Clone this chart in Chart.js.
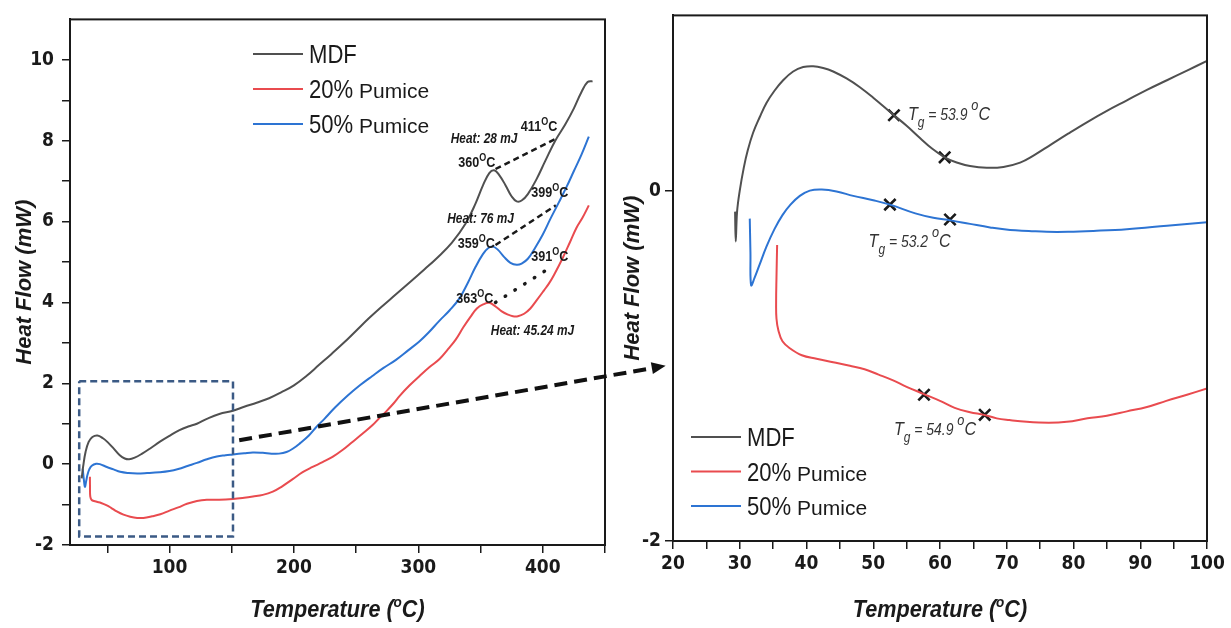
<!DOCTYPE html>
<html>
<head>
<meta charset="utf-8">
<title>DSC heat flow</title>
<script src="https://cdn.jsdelivr.net/npm/chart.js@4/dist/chart.umd.min.js"></script>
<style>
  body { margin: 0; background: #fff; }
  #wrap { position: relative; width: 1231px; height: 628px; }
  canvas { position: absolute; top: 0; }
  #full { left: 0; }
  #zoom { left: 620px; }
  #overlay { left: 0; pointer-events: none; }
</style>
</head>
<body>
<div id="wrap">
  <canvas id="full" width="620" height="628"></canvas>
  <canvas id="zoom" width="611" height="628"></canvas>
  <canvas id="overlay" width="1231" height="628"></canvas>
</div>
<script>
// Series
const SERIES = ['MDF', '20% Pumice', '50% Pumice'];
const COLORS = ['#505050', '#e94b4f', '#2d74d3'];

// Full scan, 20-450 °C  [temperature, heat flow]
const mdfFull = [[29.4,-0.35],[30.6,-0.05],[32.5,0.3],[35,0.55],[38,0.67],[42,0.71],[46.5,0.64],[51,0.52],[55,0.39],[60,0.22],[64,0.14],[67.5,0.12],[72,0.16],[78,0.26],[85,0.4],[92,0.55],[100,0.7],[108,0.84],[115,0.93],[122,1.0],[130,1.12],[140,1.24],[151,1.32],[160,1.42],[170,1.52],[180,1.63],[190,1.78],[200,1.95],[210,2.18],[220,2.45],[230,2.72],[240,3.0],[250,3.3],[260,3.6],[270,3.88],[282,4.2],[295,4.55],[305,4.82],[315,5.1],[327,5.48],[338,5.95],[346,6.45],[352,6.9],[357,7.2],[361,7.27],[365,7.15],[370,6.9],[375,6.62],[379,6.5],[383,6.52],[388,6.68],[395,7.05],[402,7.5],[410,8.0],[418,8.4],[425,8.8],[431,9.2],[436,9.45],[440,9.47]];
const p20Full = [[36,-0.31],[36.1,-0.6],[36.3,-0.8],[37.5,-0.89],[41.5,-0.93],[45,-0.96],[49.6,-1.02],[53,-1.08],[57.6,-1.17],[63,-1.25],[68.4,-1.3],[74,-1.33],[79,-1.33],[86,-1.29],[92.6,-1.24],[100,-1.15],[107,-1.07],[114,-0.98],[122,-0.91],[130,-0.88],[140,-0.88],[151,-0.86],[160,-0.83],[167,-0.8],[175,-0.76],[183,-0.68],[190,-0.56],[199,-0.37],[207,-0.2],[215,-0.07],[223,0.05],[231,0.18],[239,0.35],[247,0.55],[255,0.75],[263,0.96],[269,1.15],[274,1.3],[280,1.5],[285,1.69],[293,1.95],[301,2.18],[309,2.4],[317,2.6],[324,2.85],[330,3.08],[336,3.38],[342,3.65],[347,3.85],[352,3.95],[357,3.99],[362,3.9],[367,3.78],[372,3.7],[376,3.66],[380,3.66],[385,3.72],[390,3.85],[395,4.05],[401,4.3],[405,4.47],[409,4.68],[416,5.1],[422,5.5],[427,5.84],[432,6.1],[437,6.4]];
const p50Full = [[30.2,-0.11],[31.2,-0.4],[32,-0.56],[33,-0.42],[34,-0.27],[35.5,-0.13],[37.5,-0.04],[41,0.01],[44,0.0],[49.6,-0.07],[55,-0.13],[60.3,-0.19],[67,-0.22],[74,-0.23],[82,-0.22],[92,-0.2],[100,-0.17],[107,-0.12],[115,-0.04],[122,0.03],[130,0.12],[138,0.19],[145,0.22],[151,0.24],[160,0.27],[167,0.29],[175,0.28],[182,0.26],[188,0.26],[194,0.3],[199,0.38],[205,0.52],[212,0.71],[218,0.92],[224.5,1.12],[233,1.4],[243,1.69],[253,1.95],[263,2.18],[272,2.38],[282,2.58],[292,2.82],[301,3.04],[309,3.28],[317,3.55],[325,3.8],[333,4.1],[340,4.5],[346,4.88],[352,5.2],[356,5.34],[360,5.38],[364,5.3],[369,5.12],[374,4.98],[379,4.93],[383,4.96],[388,5.08],[394,5.36],[400,5.68],[406,6.06],[413,6.48],[419,6.85],[425,7.25],[431,7.65],[437,8.1]];

// Peak-to-peak guides on the full scan
const mdfLink = [[362,7.3],[410,8.04]];
const p50Link = [[362,5.42],[410.5,6.4]];
const p20Link = [[362,4.0],[407,4.88]];
// Region enlarged in the right panel
const zoomBox = [[27.4,2.05],[151,2.05],[151,-1.79],[27.4,-1.79],[27.4,2.05]];
const arrowFrom = [156, 0.59];   // full-scan coordinates
const arrowTo = [18.9, -1.0];    // zoom coordinates

// Zoomed scan, 20-100 °C
const mdfZoom = [[29.3,-0.12],[29.4,-0.29],[29.6,-0.12],[30,0.0],[30.6,0.13],[31.2,0.23],[32,0.33],[33,0.42],[34,0.5],[35.2,0.57],[36.5,0.63],[38,0.68],[39.5,0.705],[41,0.71],[42.5,0.7],[44,0.68],[46,0.64],[48,0.59],[50,0.53],[53.1,0.43],[55,0.37],[57,0.3],[58.8,0.24],[60.7,0.19],[62.5,0.16],[64.5,0.14],[67,0.13],[69.5,0.135],[72,0.16],[74,0.2],[76.5,0.26],[79.2,0.325],[82,0.39],[85,0.455],[88,0.515],[91,0.575],[94,0.63],[97,0.685],[100,0.74]];
const p20Zoom = [[35.6,-0.31],[35.5,-0.5],[35.45,-0.63],[35.5,-0.73],[35.8,-0.8],[36.4,-0.86],[37.5,-0.9],[39.3,-0.94],[41.5,-0.96],[44,-0.98],[46.5,-1.0],[48.7,-1.02],[50.8,-1.05],[52.8,-1.08],[55,-1.12],[57.5,-1.16],[60,-1.2],[62.2,-1.24],[64.5,-1.265],[66.6,-1.28],[68.5,-1.3],[70.4,-1.31],[73,-1.32],[76.3,-1.325],[79,-1.32],[82.1,-1.3],[85,-1.285],[88,-1.26],[91,-1.235],[93.9,-1.2],[97,-1.165],[100,-1.13]];
const p50Zoom = [[31.5,-0.16],[31.6,-0.35],[31.7,-0.54],[32.2,-0.5],[32.9,-0.43],[34,-0.32],[35.2,-0.22],[36.4,-0.14],[37.6,-0.08],[39,-0.03],[40.5,0.0],[42.3,0.006],[44.5,-0.005],[47,-0.03],[50,-0.055],[52.5,-0.08],[56.3,-0.13],[59,-0.155],[61.6,-0.17],[64.5,-0.19],[67.5,-0.21],[70.5,-0.225],[73.3,-0.23],[76,-0.235],[79.2,-0.235],[83,-0.23],[88,-0.22],[94,-0.2],[100,-0.18]];

// Glass transition onset/end markers
const mdfTg = [[53.1,0.43],[60.7,0.19]];
const p20Tg = [[57.6,-1.165],[66.7,-1.28]];
const p50Tg = [[52.5,-0.08],[61.5,-0.165]];

// Ticks
const fullXTicks = [50,100,150,200,250,300,350,400,450];
const fullYTicks = [-2,-1,0,1,2,3,4,5,6,7,8,9,10];
const zoomXTicks = [20,25,30,35,40,45,50,55,60,65,70,75,80,85,90,95,100];
const zoomYTicks = [-2, 0];

// Text notes: [value, temperature, heat flow]
const tempNotes = [['411',397,8.37],['360',347,7.47],['399',405.6,6.73],['359',346.6,5.46],['391',405.6,5.15],['363',345.3,4.11]];
const heatNotes = [['28 mJ',352.8,8.06],['76 mJ',350,6.1],['45.24 mJ',391.7,3.33]];
const tgNotes = [['53.9',55.2,0.44],['53.2',49.3,-0.29],['54.9',53.1,-1.36]];

const NARROW = '"Liberation Sans Narrow", "Arial Narrow", "DejaVu Sans Condensed", sans-serif';
const SANS = '"Liberation Sans", Arial, sans-serif';
const INK = '#1a1a1a';

Chart.defaults.font.family = NARROW;
Chart.defaults.color = INK;

const toXY = pts => pts.map(([x, y]) => ({ x, y }));

function curve(i, pts) {
    return { label: SERIES[i], data: toXY(pts), borderColor: COLORS[i], borderWidth: 2, pointRadius: 0, tension: 0.4 };
}

function guide(pts, color, width, dash, cap) {
    return { data: toXY(pts), borderColor: color, borderWidth: width, borderDash: dash, borderCapStyle: cap || 'butt', pointRadius: 0, tension: 0 };
}

function marks(pts) {
    return { data: toXY(pts), showLine: false, pointStyle: 'crossRot', pointRadius: 8, borderColor: INK, borderWidth: 2.6 };
}

// draws a run of differently styled pieces on one baseline;
// sx squeezes a piece horizontally (no narrow face is installed)
function drawParts(ctx, parts, x, y, align) {
    let total = 0;
    parts.forEach(p => { ctx.font = p.font; p.w = ctx.measureText(p.text).width * (p.sx || 1); total += p.w; });
    let cx = align === 'center' ? x - total / 2 : x;
    ctx.textAlign = 'left';
    ctx.textBaseline = 'alphabetic';
    parts.forEach(p => {
        ctx.save();
        ctx.font = p.font;
        ctx.translate(cx, y + (p.dy || 0));
        ctx.scale(p.sx || 1, 1);
        ctx.fillText(p.text, 0, 0);
        ctx.restore();
        cx += p.w;
    });
}

const degParts = t => [
    { text: t, font: `bold 14px ${SANS}`, sx: 0.9 },
    { text: 'O', font: `bold 10px ${SANS}`, dy: -6, sx: 0.9 },
    { text: 'C', font: `bold 14px ${SANS}`, sx: 0.9 }
];
const tgParts = v => [
    { text: 'T', font: `italic 19px ${SANS}`, sx: 0.85 },
    { text: 'g', font: `italic 14px ${SANS}`, dy: 7, sx: 0.85 },
    { text: ' = ' + v + ' ', font: `italic 17px ${SANS}`, sx: 0.82 },
    { text: 'o', font: `italic 15px ${SANS}`, dy: -10, sx: 0.85 },
    { text: 'C', font: `italic 19px ${SANS}`, sx: 0.85 }
];
const axisTitleParts = [
    { text: 'Temperature (', font: `italic bold 24px ${SANS}`, sx: 0.9 },
    { text: 'o', font: `italic bold 15px ${SANS}`, dy: -10, sx: 0.9 },
    { text: 'C)', font: `italic bold 24px ${SANS}`, sx: 0.9 }
];

function drawLegend(ctx, x, y, gap) {
    SERIES.forEach((name, i) => {
        const yy = y + i * gap;
        ctx.strokeStyle = COLORS[i];
        ctx.lineWidth = 2;
        ctx.beginPath();
        ctx.moveTo(x, yy);
        ctx.lineTo(x + 50, yy);
        ctx.stroke();
        const [first, ...rest] = name.split(' ');
        const parts = [{ text: first, font: `26px ${SANS}`, sx: 0.85 }];
        if (rest.length) parts.push({ text: ' ' + rest.join(' '), font: `21px ${SANS}` });
        ctx.fillStyle = INK;
        drawParts(ctx, parts, x + 56, yy + 9);
    });
}

// box around the plot area plus the bottom axis title
const framePlugin = {
    id: 'frame',
    afterDraw(chart) {
        const { ctx, chartArea: a } = chart;
        ctx.save();
        ctx.strokeStyle = INK;
        ctx.lineWidth = 2;
        ctx.strokeRect(a.left, a.top, a.right - a.left, a.bottom - a.top);
        ctx.fillStyle = INK;
        drawParts(ctx, axisTitleParts, (a.left + a.right) / 2, 617, 'center');
        ctx.restore();
    }
};

function axes(cfg) {
    const tickFont = { size: 19, weight: 'bold', family: NARROW };
    return {
        x: {
            type: 'linear', min: cfg.xMin, max: cfg.xMax,
            afterBuildTicks: s => { s.ticks = cfg.xTicks.map(value => ({ value })); },
            afterFit: s => { s.height = cfg.xHeight; },
            ticks: { autoSkip: false, maxRotation: 0, padding: 4, font: tickFont, color: INK,
                     callback: v => (v % cfg.xLabelEvery === 0 ? v : '') },
            grid: { drawOnChartArea: false, tickLength: 8, color: INK, lineWidth: 1.5 },
            border: { color: INK, width: 2 }
        },
        y: {
            min: cfg.yMin, max: cfg.yMax,
            afterBuildTicks: s => { s.ticks = cfg.yTicks.map(value => ({ value })); },
            afterFit: s => { s.width = cfg.yWidth; },
            ticks: { autoSkip: false, padding: cfg.yPad, font: tickFont, color: INK,
                     callback: v => (v % 2 === 0 ? v : '') },
            grid: { drawOnChartArea: false, tickLength: 8, color: INK, lineWidth: 1.5 },
            border: { color: INK, width: 2 },
            title: { display: true, text: 'Heat Flow (mW)', color: INK,
                     font: { family: SANS, size: 22, weight: 'bold', style: 'italic' },
                     padding: { top: cfg.titlePad, bottom: 0 } }
        }
    };
}

const common = {
    responsive: false,
    animation: false,
    events: [],
    plugins: { legend: { display: false }, tooltip: { enabled: false } }
};

const fullChart = new Chart(document.getElementById('full'), {
    type: 'line',
    data: {
        datasets: [
            guide(zoomBox, '#3b5a85', 2.5, [7, 4]),
            curve(0, mdfFull),
            curve(1, p20Full),
            curve(2, p50Full),
            guide(mdfLink, INK, 2.5, [6, 4]),
            guide(p50Link, INK, 2.5, [6, 4]),
            guide(p20Link, INK, 3.5, [0.5, 11], 'round')
        ]
    },
    options: {
        ...common,
        layout: { padding: { top: 15, right: 15, left: 0, bottom: 0 } },
        scales: axes({ xMin: 20, xMax: 450, xTicks: fullXTicks, xLabelEvery: 100, xHeight: 83,
                       yMin: -2, yMax: 11, yTicks: fullYTicks, yWidth: 70, yPad: 8, titlePad: 12 })
    },
    plugins: [framePlugin, {
        id: 'fullNotes',
        afterDatasetsDraw(chart) {
            const { ctx, scales: { x, y }, chartArea: a } = chart;
            ctx.save();
            ctx.fillStyle = INK;
            tempNotes.forEach(([t, tx, ty]) => drawParts(ctx, degParts(t), x.getPixelForValue(tx), y.getPixelForValue(ty) + 5, 'center'));
            heatNotes.forEach(([t, tx, ty]) => drawParts(ctx, [{ text: 'Heat: ' + t, font: `italic bold 14px ${SANS}`, sx: 0.85 }],
                x.getPixelForValue(tx), y.getPixelForValue(ty) + 5, 'center'));
            drawLegend(ctx, a.left + 183, 54, 35);
            ctx.restore();
        }
    }]
});

const zoomChart = new Chart(document.getElementById('zoom'), {
    type: 'line',
    data: {
        datasets: [
            curve(0, mdfZoom),
            curve(1, p20Zoom),
            curve(2, p50Zoom),
            marks(mdfTg),
            marks(p20Tg),
            marks(p50Tg)
        ]
    },
    options: {
        ...common,
        layout: { padding: { top: 12, right: 24, left: 0, bottom: 0 } },
        scales: axes({ xMin: 20, xMax: 100, xTicks: zoomXTicks, xLabelEvery: 10, xHeight: 87,
                       yMin: -2, yMax: 1, yTicks: zoomYTicks, yWidth: 53, yPad: 4, titlePad: 0 })
    },
    plugins: [framePlugin, {
        id: 'zoomNotes',
        afterDatasetsDraw(chart) {
            const { ctx, scales: { x, y }, chartArea: a } = chart;
            ctx.save();
            ctx.fillStyle = '#333';
            tgNotes.forEach(([v, tx, ty]) => drawParts(ctx, tgParts(v), x.getPixelForValue(tx), y.getPixelForValue(ty) + 6));
            drawLegend(ctx, a.left + 18, 437, 34.5);
            ctx.restore();
        }
    }]
});

// dashed arrow from the enlarged region to the zoomed panel
function drawArrow() {
    const ctx = document.getElementById('overlay').getContext('2d');
    const zx = document.getElementById('zoom').offsetLeft;
    const x0 = fullChart.scales.x.getPixelForValue(arrowFrom[0]);
    const y0 = fullChart.scales.y.getPixelForValue(arrowFrom[1]);
    const x1 = zx + zoomChart.scales.x.getPixelForValue(arrowTo[0]);
    const y1 = zoomChart.scales.y.getPixelForValue(arrowTo[1]);
    const ang = Math.atan2(y1 - y0, x1 - x0);
    const head = 14;
    ctx.strokeStyle = '#111';
    ctx.fillStyle = '#111';
    ctx.lineWidth = 4;
    ctx.setLineDash([13, 7]);
    ctx.beginPath();
    ctx.moveTo(x0, y0);
    ctx.lineTo(x1 - head * Math.cos(ang), y1 - head * Math.sin(ang));
    ctx.stroke();
    ctx.setLineDash([]);
    ctx.beginPath();
    ctx.moveTo(x1, y1);
    ctx.lineTo(x1 - head * Math.cos(ang) + 6 * Math.sin(ang), y1 - head * Math.sin(ang) - 6 * Math.cos(ang));
    ctx.lineTo(x1 - head * Math.cos(ang) - 6 * Math.sin(ang), y1 - head * Math.sin(ang) + 6 * Math.cos(ang));
    ctx.closePath();
    ctx.fill();
}

drawArrow();
</script>
</body>
</html>
